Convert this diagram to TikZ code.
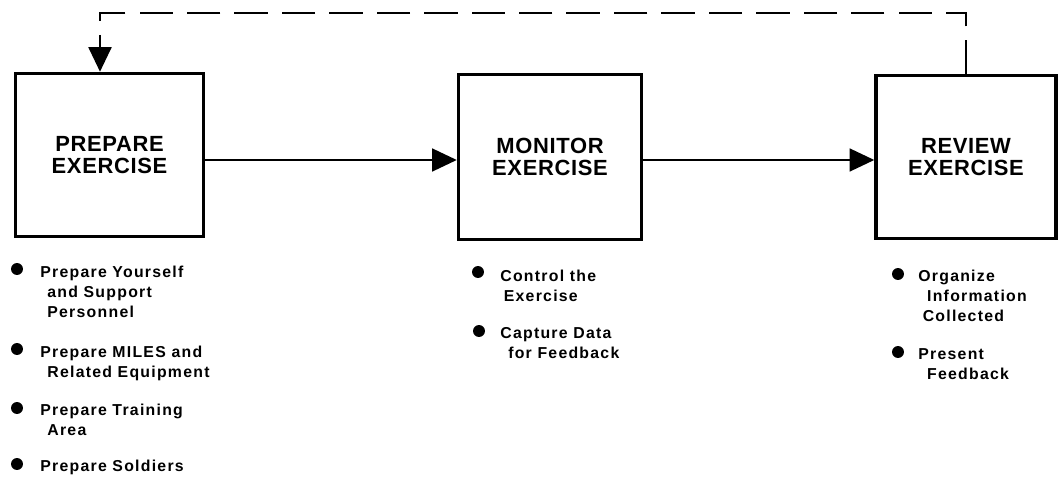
\documentclass[tikz,border=0pt]{standalone}
\usepackage{fontspec}
\setmainfont{Liberation Sans}
\newfontfamily\itemfont[LetterSpace=8]{Liberation Sans}
\newfontfamily\stagefont[LetterSpace=3]{Liberation Sans}
\usepackage{tikz}
\usetikzlibrary{arrows.meta}

\tikzset{
  stage/.style={draw, line width=2pt, align=center, inner sep=0pt,
    font=\stagefont\bfseries\fontsize{12.5}{12.2}\selectfont},
  flow/.style={-{Triangle[length=14pt,width=13pt]}, line width=1.1pt},
  feedback/.style={flow, line width=1.5pt, dash pattern=on 19pt off 8pt},
  dot/.style={circle, fill, inner sep=0pt, minimum size=6.8pt},
  item/.style={anchor=north west, align=left, inner sep=0pt,
    font=\itemfont\bfseries\fontsize{9}{11.3}\selectfont},
}

\begin{document}
\begin{tikzpicture}[x=0.02cm,y=-0.02cm]
  \useasboundingbox (0,0) rectangle (1060,482);

  % the three stages
  \node[stage, minimum width=3.76cm, minimum height=3.26cm] (prep) at (109.5,155) {PREPARE\\EXERCISE};
  \node[stage, minimum width=3.66cm, minimum height=3.30cm] (mon) at (550,157) {MONITOR\\EXERCISE};
  \node[stage, minimum width=3.60cm, minimum height=3.26cm] (rev) at (966,157) {REVIEW\\EXERCISE};

  \coordinate (axis) at (0,160);
  \draw[flow] (prep.east |- axis) -- (mon.west |- axis);
  \draw[flow] (mon.east |- axis) -- (rev.west |- axis);

  % feedback loop back to the start
  \coordinate (fbL) at (100,13);
  \draw[feedback] (rev.north) |- (fbL) -- (fbL |- prep.north);

  % prepare
  \node[dot] (dp1) at (17,269) {};
  \node[item] (tp1) at (40,265.5) {Prepare Yourself\\\hspace*{4pt}and Support\\\hspace*{4pt}Personnel};
  \node[dot] (dp2) at (17,349) {};
  \node[item] (tp2) at (40,345.5) {Prepare MILES and\\\hspace*{4pt}Related Equipment};
  \node[dot] (dp3) at (17,408) {};
  \node[item] (tp3) at (40,403.5) {Prepare Training\\\hspace*{4pt}Area};
  \node[dot] (dp4) at (17,464) {};
  \node[item] (tp4) at (40,459.5) {Prepare Soldiers};

  % monitor
  \node[dot] (dm1) at (478,272) {};
  \node[item] (tm1) at (500,269.5) {Control the\\\hspace*{2pt}Exercise};
  \node[dot] (dm2) at (479,331) {};
  \node[item] (tm2) at (500,327.5) {Capture Data\\\hspace*{4.5pt}for Feedback};

  % review
  \node[dot] (dr1) at (898,274) {};
  \node[item] (tr1) at (918,269.5) {Organize\\\hspace*{5pt}Information\\\hspace*{2.5pt}Collected};
  \node[dot] (dr2) at (898,352) {};
  \node[item] (tr2) at (918,348.5) {Present\\\hspace*{5pt}Feedback};
\end{tikzpicture}
\end{document}
